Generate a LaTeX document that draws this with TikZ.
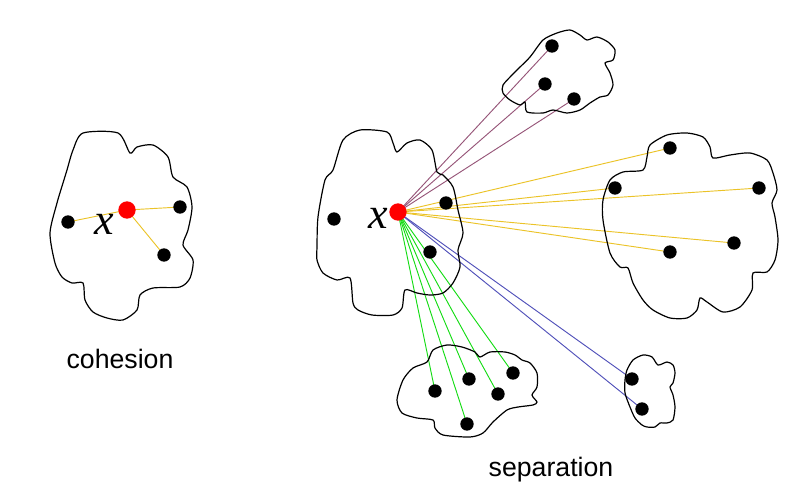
\documentclass[tikz,border=0pt]{standalone}
\usepackage{fontspec}
\setmainfont{Liberation Serif}
\newfontfamily\labelfont{Liberation Sans}
\usetikzlibrary{backgrounds}
\definecolor{yel}{RGB}{235,195,40}
\definecolor{pur}{RGB}{150,85,120}
\definecolor{grn}{RGB}{20,220,20}
\definecolor{blu}{RGB}{80,80,185}
\tikzset{
  dot/.style={circle,fill=black,inner sep=0pt,minimum size=10},
  reddot/.style={circle,fill=red,inner sep=0pt,minimum size=13},
  cloud/.style={draw=black,line width=0.9,smooth cycle,tension=0.45},
  link/.style={line width=0.7},
  lbl/.style={font=\labelfont\fontsize{20}{24}\selectfont},
  xlbl/.style={font=\itshape\fontsize{33}{36}\selectfont,inner sep=0pt}
}
\begin{document}
\begin{tikzpicture}[x=0.75pt,y=-0.75pt]
\useasboundingbox (0,0) rectangle (801,494);
% clouds
\draw[cloud] plot coordinates {(83,133) (118,133) (130,153) (137,147) (153,145) (168,157) (173,177) (187,187) (192,207) (188,230) (183,245) (193,260) (190,278) (180,287) (153,288) (140,295) (137,310) (123,320) (107,318) (93,312) (85,300) (83,283) (72,283) (62,277) (55,263) (50,233) (57,203) (63,183) (67,170) (73,150)};
\draw[cloud] plot coordinates {(360,130) (387,132) (393,143) (397,152) (407,143) (420,140) (432,150) (437,172) (443,175) (453,187) (458,210) (463,233) (458,250) (460,267) (453,283) (443,293) (430,295) (417,293) (405,290) (402,308) (393,315) (372,315) (358,310) (353,303) (350,278) (337,280) (323,273) (317,260) (317,247) (318,217) (325,180) (333,170) (343,140)};
\draw[cloud] plot coordinates {(503,85) (515,72) (530,57) (543,40) (557,33) (570,30) (580,35) (587,40) (597,37) (608,42) (615,50) (613,60) (605,63) (610,73) (613,85) (608,95) (600,97) (590,103) (580,110) (567,113) (553,110) (543,113) (527,112) (525,102) (520,105) (510,100) (503,93)};
\draw[cloud] plot coordinates {(650,145) (667,135) (687,133) (703,137) (710,147) (713,158) (730,155) (750,153) (767,160) (773,173) (777,190) (772,203) (775,217) (778,240) (775,260) (767,272) (753,273) (752,290) (740,307) (723,312) (707,302) (700,298) (697,310) (687,318) (670,318) (653,310) (643,300) (633,283) (628,268) (620,267) (610,253) (603,220) (603,200) (610,180) (623,172) (643,170) (647,157)};
\draw[cloud] plot coordinates {(397,400) (403,380) (413,368) (427,362) (433,350) (447,345) (462,347) (475,352) (480,357) (490,352) (505,352) (515,355) (522,360) (530,363) (537,373) (537,387) (532,395) (537,402) (533,405) (518,407) (507,410) (493,422) (483,433) (470,437) (443,435) (435,428) (433,420) (417,418) (402,413)};
\draw[cloud] plot coordinates {(627,370) (633,360) (643,355) (652,357) (658,365) (667,362) (673,365) (675,373) (673,383) (670,387) (673,395) (675,407) (673,420) (667,423) (660,423) (655,427) (647,427) (642,425) (635,418) (630,407) (625,393) (625,380)};
% cohesion nodes
\node[reddot] (r1) at (127,210) {};
\node[dot] (c1) at (68,222) {};
\node[dot] (c2) at (180,207) {};
\node[dot] (c3) at (164,255) {};
% separation nodes
\node[reddot] (r2) at (398,212) {};
\node[dot] (s0) at (334,219) {};
\node[dot] (s1) at (446,203) {};
\node[dot] (s2) at (430,252) {};
\node[dot] (t1) at (552,46) {};
\node[dot] (t2) at (545,84) {};
\node[dot] (t3) at (574,99) {};
\node[dot] (q1) at (670,148) {};
\node[dot] (q2) at (615,188) {};
\node[dot] (q3) at (759,188) {};
\node[dot] (q4) at (734,243) {};
\node[dot] (q5) at (670,252) {};
\node[dot] (g1) at (435,391) {};
\node[dot] (g2) at (469,379) {};
\node[dot] (g3) at (498,394) {};
\node[dot] (g4) at (513,373) {};
\node[dot] (g5) at (467,424) {};
\node[dot] (b1) at (632,379) {};
\node[dot] (b2) at (642,409) {};
% links
\begin{scope}[on background layer]
\foreach \p in {c1,c2,c3} \draw[link,yel] (r1.center) -- (\p.center);
\foreach \p in {q1,q2,q3,q4,q5} \draw[link,yel] (r2.center) -- (\p.center);
\foreach \p in {t1,t2,t3} \draw[link,pur] (r2.center) -- (\p.center);
\foreach \p in {g1,g2,g3,g4,g5} \draw[link,grn] (r2.center) -- (\p.center);
\foreach \p in {b1,b2} \draw[link,blu] (r2.center) -- (\p.center);
\end{scope}
% labels
\node[xlbl] (x1) at (104,224) {x};
\node[xlbl] (x2) at (378,218) {x};
\node[lbl] (coh) at (120,359) {cohesion};
\node[lbl] (sep) at (551,470) {separation};
\end{tikzpicture}
\end{document}
